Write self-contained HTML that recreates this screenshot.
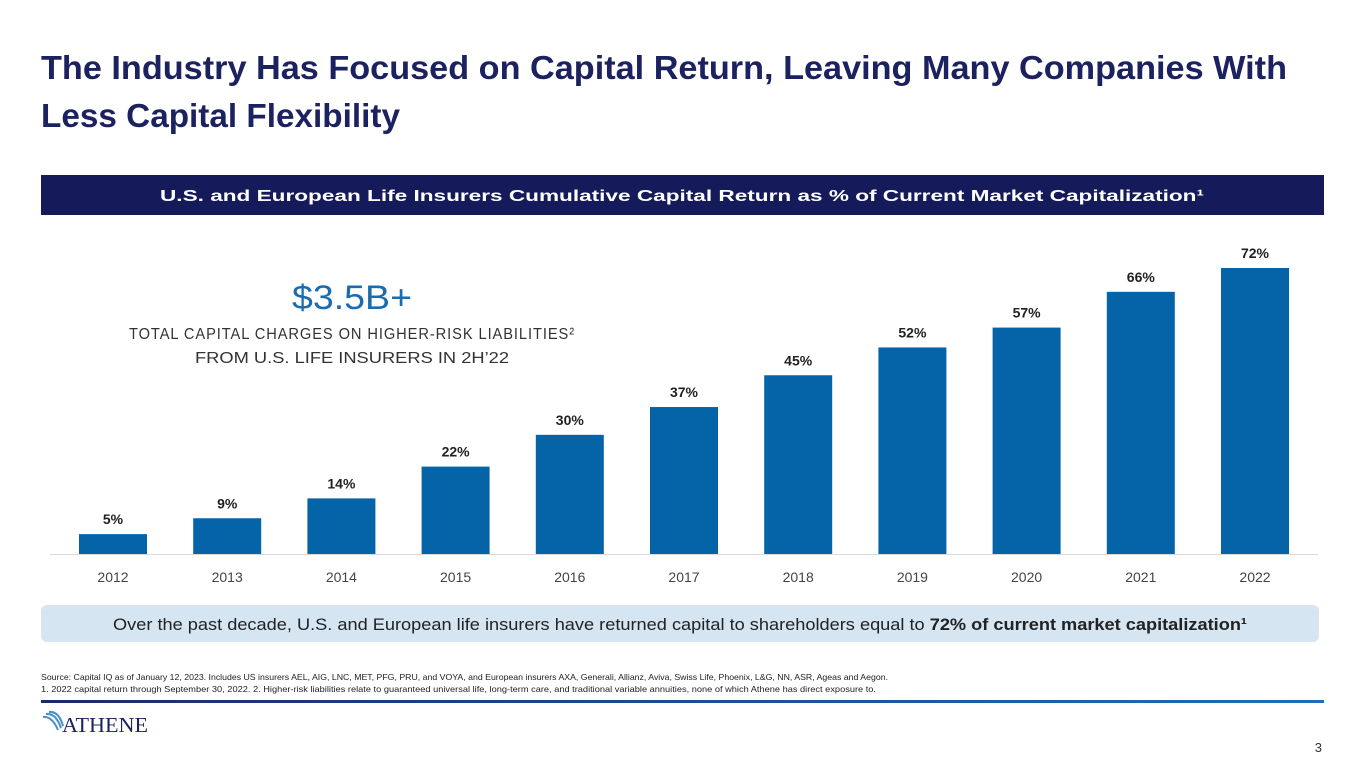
<!DOCTYPE html>
<html><head><meta charset="utf-8"><style>
html,body{margin:0;padding:0;background:#fff;}
svg{display:block;font-family:"Liberation Sans",sans-serif;}
</style></head><body>
<svg id="slide" width="1365" height="768" viewBox="0 0 1365 768">
<defs><linearGradient id="lg" x1="0" x2="1"><stop offset="0" stop-color="#1b2a6b"/><stop offset="1" stop-color="#1d6fb8"/></linearGradient></defs>
<text x="41" y="79" font-size="33" font-weight="bold" fill="#1c2260" textLength="1246" lengthAdjust="spacingAndGlyphs">The Industry Has Focused on Capital Return, Leaving Many Companies With</text>
<text x="41" y="127" font-size="33" font-weight="bold" fill="#1c2260" textLength="359" lengthAdjust="spacingAndGlyphs">Less Capital Flexibility</text>
<rect x="41" y="175" width="1283" height="40" fill="#141a5a"/>
<text x="682" y="201" font-size="16" font-weight="bold" fill="#fff" text-anchor="middle" textLength="1044" lengthAdjust="spacingAndGlyphs">U.S. and European Life Insurers Cumulative Capital Return as % of Current Market Capitalization¹</text>
<text x="352" y="309" font-size="34" fill="#1a6cb0" text-anchor="middle" textLength="120" lengthAdjust="spacingAndGlyphs">$3.5B+</text>
<text x="352" y="339" font-size="16" fill="#333" text-anchor="middle" textLength="446" lengthAdjust="spacingAndGlyphs" letter-spacing="1">TOTAL CAPITAL CHARGES ON HIGHER-RISK LIABILITIES²</text>
<text x="352" y="363" font-size="16" fill="#333" text-anchor="middle" textLength="314" lengthAdjust="spacingAndGlyphs">FROM U.S. LIFE INSURERS IN 2H’22</text>
<g id="chart"></g>
<rect x="41" y="605" width="1278" height="37" rx="6" fill="#d5e5f2"/>
<text x="680" y="630" font-size="17" fill="#222" text-anchor="middle" textLength="1134" lengthAdjust="spacingAndGlyphs">Over the past decade, U.S. and European life insurers have returned capital to shareholders equal to <tspan font-weight="bold">72% of current market capitalization¹</tspan></text>
<text x="41" y="680" font-size="8.5" fill="#222" textLength="847" lengthAdjust="spacingAndGlyphs">Source: Capital IQ as of January 12, 2023. Includes US insurers AEL, AIG, LNC, MET, PFG, PRU, and VOYA, and European insurers AXA, Generali, Allianz, Aviva, Swiss Life, Phoenix, L&amp;G, NN, ASR, Ageas and Aegon.</text>
<text x="41" y="692" font-size="8.5" fill="#222" textLength="835" lengthAdjust="spacingAndGlyphs">1. 2022 capital return through September 30, 2022. 2. Higher-risk liabilities relate to guaranteed universal life, long-term care, and traditional variable annuities, none of which Athene has direct exposure to.</text>
<rect x="41" y="700" width="1283" height="3" fill="url(#lg)"/>
<g>
<path d="M43 717 Q52 716 58 730 M46 714 Q56 713 61 728 M49 712 Q59 711 63 726" stroke="#4a90c8" stroke-width="2" fill="none"/>
<text x="62" y="732" font-size="21" fill="#1c2260" font-family="Liberation Serif,serif" textLength="86" lengthAdjust="spacingAndGlyphs">ATHENE</text>
</g>
<text x="1322" y="752" font-size="13" fill="#333" text-anchor="end">3</text>
</svg>
<script>
const years = ['2012','2013','2014','2015','2016','2017','2018','2019','2020','2021','2022'];
const values = [5,9,14,22,30,37,45,52,57,66,72];
const labels = ['5%','9%','14%','22%','30%','37%','45%','52%','57%','66%','72%'];
const NS='http://www.w3.org/2000/svg';
const g=document.getElementById('chart');
const x0=113, step=114.2, barW=68, baseY=554, pxPer=286/72;
const xs=i=>x0+i*step, ys=v=>baseY-v*pxPer;
const axis=document.createElementNS(NS,'line');
axis.setAttribute('x1',50);axis.setAttribute('x2',1318);axis.setAttribute('y1',baseY+0.5);axis.setAttribute('y2',baseY+0.5);
axis.setAttribute('stroke','#d9d9d9');


g.appendChild(axis);
years.forEach((yr,i)=>{
  const r=document.createElementNS(NS,'rect');
  r.setAttribute('x',xs(i)-barW/2);r.setAttribute('y',ys(values[i]));r.setAttribute('width',barW);r.setAttribute('height',baseY-ys(values[i]));r.setAttribute('fill','#0563a8');
  
  
  g.appendChild(r);
  const t=document.createElementNS(NS,'text');
  t.setAttribute('x',xs(i));t.setAttribute('y',ys(values[i])-10);t.setAttribute('text-anchor','middle');t.setAttribute('font-size','14');t.setAttribute('font-weight','bold');t.setAttribute('fill','#222');
  t.textContent=labels[i];
  
  
  g.appendChild(t);
  const l=document.createElementNS(NS,'text');
  l.setAttribute('x',xs(i));l.setAttribute('y',582);l.setAttribute('text-anchor','middle');l.setAttribute('font-size','14');l.setAttribute('fill','#444');
  l.textContent=yr;
  
  
  g.appendChild(l);
});
</script>
</body></html>
